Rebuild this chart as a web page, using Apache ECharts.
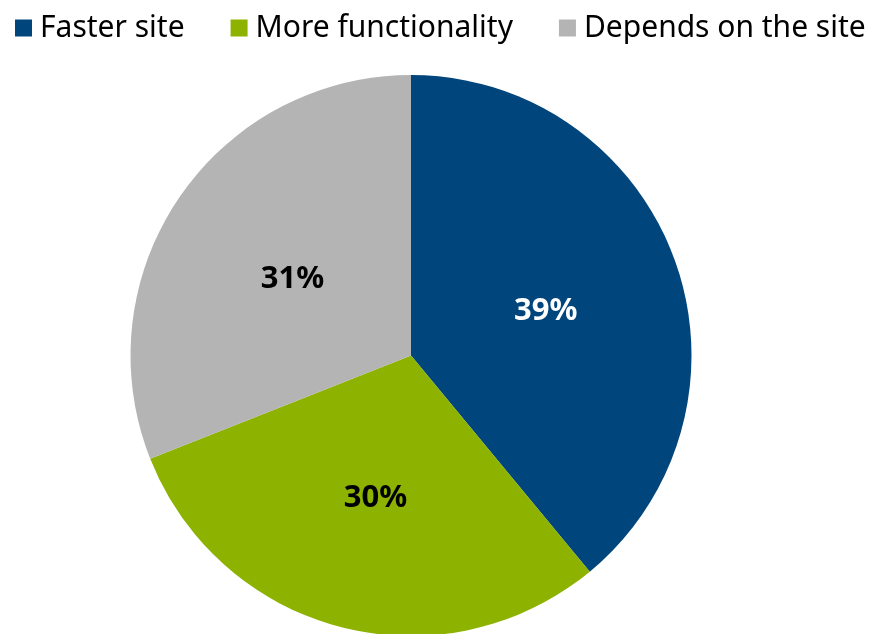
<!DOCTYPE html>
<html>
<head>
<meta charset="utf-8">
<script src="https://cdn.jsdelivr.net/npm/echarts@6/dist/echarts.min.js"></script>
<style>
html,body{margin:0;padding:0;background:#fff;}
#chart{width:871px;height:634px;}
</style>
</head>
<body>
<div id="chart"></div>
<script>
const categories = ['Faster site', 'More functionality', 'Depends on the site'];
const values = [39, 30, 31];
const colors = ['#00457B', '#8DB200', '#B4B4B4'];
const labelColors = ['#FFFFFF', '#000000', '#000000'];

const FONT = "'Noto Sans', 'DejaVu Sans', sans-serif";
const chart = echarts.init(document.getElementById('chart'), null, {renderer: 'canvas'});
chart.setOption({
  animation: false,
  legend: {
    left: 15,
    top: 13,
    icon: 'rect',
    itemWidth: 17,
    itemHeight: 17,
    itemGap: 46,
    padding: 0,
    textStyle: {fontFamily: FONT, fontSize: 30, color: '#000', padding: [0, 0, 4, 3]},
    data: categories
  },
  series: [{
    type: 'pie',
    center: [411, 355.5],
    radius: [0, 280.5],
    startAngle: 90,
    clockwise: true,
    label: {
      show: true,
      position: 'inside',
      fontFamily: FONT,
      fontSize: 31,
      fontWeight: 'bold',
      formatter: '{c}%',
      offset: [0, 4]
    },
    labelLine: {show: false},
    emphasis: {disabled: true},
    data: categories.map((n, i) => ({
      name: n,
      value: values[i],
      itemStyle: {color: colors[i]},
      label: {color: labelColors[i]}
    }))
  }]
});
</script>
</body>
</html>
